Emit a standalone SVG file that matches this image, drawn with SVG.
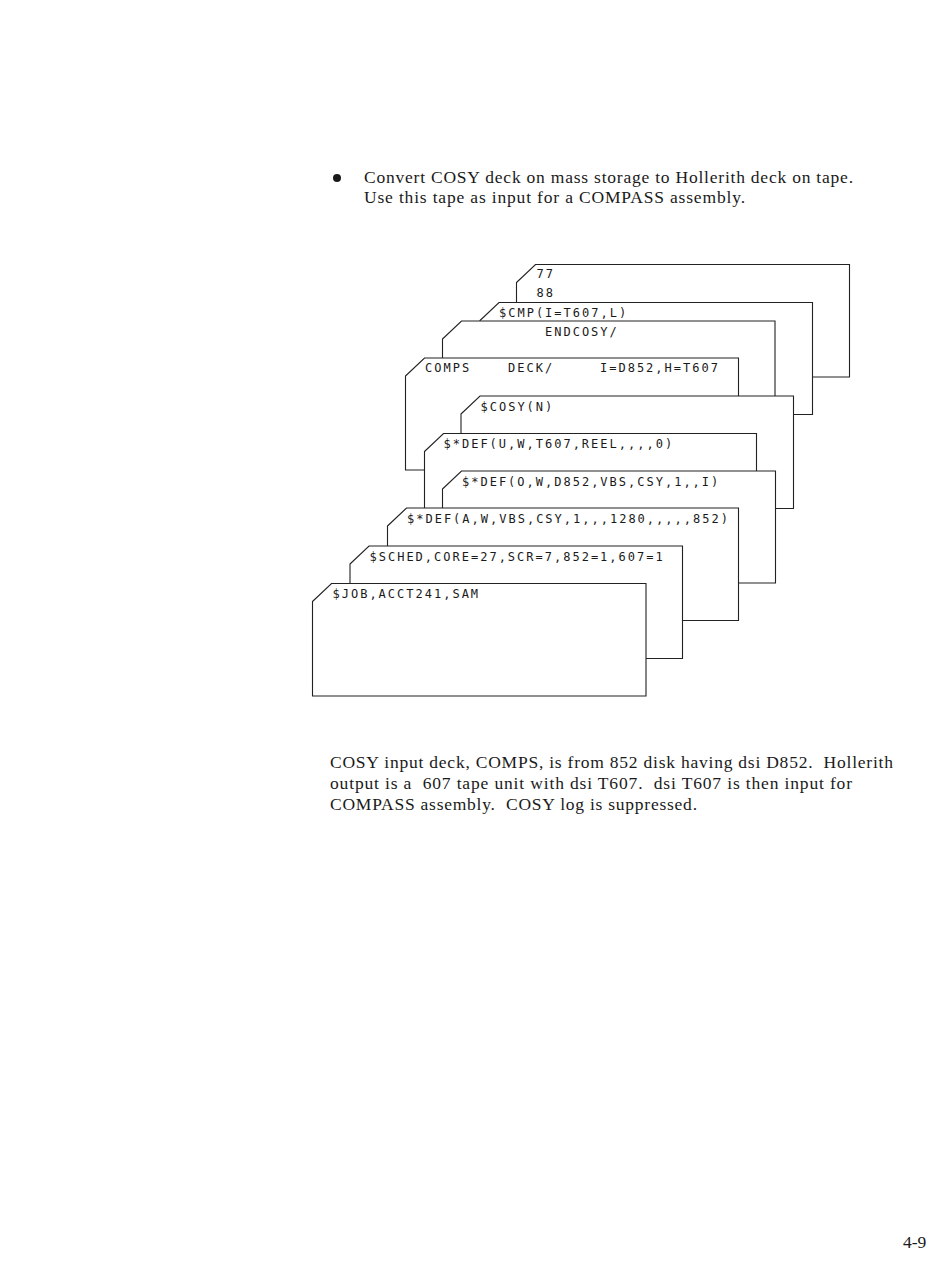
<svg xmlns="http://www.w3.org/2000/svg" width="950" height="1275" viewBox="0 0 950 1275">
<style>
.card{fill:#fff;stroke:#222;stroke-width:1.1;stroke-linejoin:miter}
.ct{font-family:"DejaVu Sans Mono","Liberation Mono",monospace;font-size:12px;letter-spacing:2px;fill:#1a1a1a}
.body{font-family:"Liberation Serif","Times New Roman",serif;font-size:17.5px;fill:#1a1a1a;white-space:pre}
</style>
<rect width="950" height="1275" fill="#fff"/>
<g id="intro">
<circle cx="337" cy="178" r="4" fill="#1a1a1a"/>
<text class="body" x="364" y="183" textLength="489" lengthAdjust="spacing">Convert COSY deck on mass storage to Hollerith deck on tape.</text>
<text class="body" x="364" y="203" textLength="381" lengthAdjust="spacing">Use this tape as input for a COMPASS assembly.</text>
</g>
<g id="deck">
<g id="card-7788">
<path class="card" d="M516.5,282.5 L535.5,264.5 L849.5,264.5 L849.5,377 L516.5,377 Z"/>
<text class="ct" x="536.5" y="277.5">77</text>
<text class="ct" x="536.5" y="296.5">88</text>
</g>
<g id="card-cmp">
<path class="card" d="M480,320.5 L499,302.5 L812.5,302.5 L812.5,414.5 L480,414.5 Z"/>
<text class="ct" x="499" y="316.5">$CMP(I=T607,L)</text>
</g>
<g id="card-endcosy">
<path class="card" d="M442.5,339 L461.5,321 L775,321 L775,433.5 L442.5,433.5 Z"/>
<text class="ct" x="545" y="335.5">ENDCOSY/</text>
</g>
<g id="card-comps">
<path class="card" d="M405.5,376 L424.5,358 L738.5,358 L738.5,470 L405.5,470 Z"/>
<text class="ct" x="425" y="372">COMPS</text>
<text class="ct" x="508" y="372">DECK/</text>
<text class="ct" x="600" y="372">I=D852,H=T607</text>
</g>
<g id="card-cosy">
<path class="card" d="M461,414 L480,396 L793.5,396 L793.5,508.5 L461,508.5 Z"/>
<text class="ct" x="480.5" y="410.5">$COSY(N)</text>
</g>
<g id="card-def-u">
<path class="card" d="M424.5,451.5 L443.5,433.5 L756.5,433.5 L756.5,546 L424.5,546 Z"/>
<text class="ct" x="443.5" y="448">$*DEF(U,W,T607,REEL,,,,0)</text>
</g>
<g id="card-def-o">
<path class="card" d="M442.5,489 L461.5,471 L775.5,471 L775.5,583 L442.5,583 Z"/>
<text class="ct" x="462" y="485.5">$*DEF(O,W,D852,VBS,CSY,1,,I)</text>
</g>
<g id="card-def-a">
<path class="card" d="M387.5,526 L406.5,508 L738.5,508 L738.5,620.5 L387.5,620.5 Z"/>
<text class="ct" x="407" y="522.5">$*DEF(A,W,VBS,CSY,1,,,1280,,,,,852)</text>
</g>
<g id="card-sched">
<path class="card" d="M350,564 L369,546 L682.5,546 L682.5,658.5 L350,658.5 Z"/>
<text class="ct" x="369.5" y="561">$SCHED,CORE=27,SCR=7,852=1,607=1</text>
</g>
<g id="card-job">
<path class="card" d="M312.5,601.5 L331.5,583.5 L646,583.5 L646,696 L312.5,696 Z"/>
<text class="ct" x="332.5" y="598">$JOB,ACCT241,SAM</text>
</g>
</g>
<g id="connectors"></g>
<g id="caption">
<text class="body" x="330" y="768" textLength="563" lengthAdjust="spacing">COSY input deck, COMPS, is from 852 disk having dsi D852.  Hollerith</text>
<text class="body" x="330" y="789" textLength="522" lengthAdjust="spacing">output is a  607 tape unit with dsi T607.  dsi T607 is then input for</text>
<text class="body" x="330" y="810" textLength="367" lengthAdjust="spacing">COMPASS assembly.  COSY log is suppressed.</text>
</g>
<text class="body" x="903" y="1248" font-size="16">4-9</text>
</svg>
